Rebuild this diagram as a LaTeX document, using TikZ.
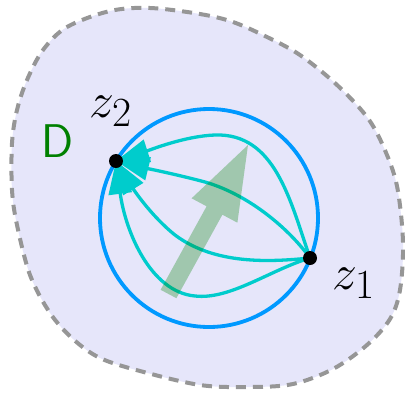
\documentclass[tikz,border=0pt]{standalone}
\usetikzlibrary{arrows.meta,calc}
\definecolor{lav}{RGB}{230,230,250}
\definecolor{teal2}{RGB}{0,204,204}
\definecolor{circblue}{RGB}{0,153,255}
\definecolor{dgray}{RGB}{150,150,150}
\definecolor{dgreen}{RGB}{0,128,0}
\tikzset{
  curve/.style={teal2,line width=3.3pt,-{Triangle[length=33pt,width=23pt]}},
  dot/.style={circle,fill=black,inner sep=0pt,minimum size=14pt},
  zlabel/.style={anchor=base west,inner sep=0pt,font=\Huge,scale=2},
}
\begin{document}
\begin{tikzpicture}[x=1pt,y=-1pt]
\useasboundingbox (0,0) rectangle (405,392);
% region
\draw[dgray,fill=lav,line width=4pt,dash pattern=on 10pt off 7pt]
  plot[smooth cycle,tension=0.55] coordinates {(150,8) (200,14) (233,22) (267,37) (300,55) (336,84) (367,117) (384,148) (397,186) (403,242) (400,290) (390,319) (367,345) (333,369) (293,384) (250,387) (200,385) (140,371) (100,358) (73,339) (50,313) (30,275) (17,225) (12,190) (12,143) (17,110) (27,80) (43,50) (67,27) (110,11)};
% circle
\draw[circblue,line width=3.8pt] (209,218) circle[radius=109];
\coordinate (z1) at (310,258);
\coordinate (z2) at (116,161);
% curves
\draw[curve] (z1) .. controls (290,200) and (275,133) .. (215,135) .. controls (185,136) and (150,150) .. (z2);
\draw[curve] (z1) .. controls (290,230) and (250,195) .. (205,182) .. controls (175,174) and (145,168) .. (z2);
\draw[curve] (z1) .. controls (270,262) and (215,265) .. (175,235) .. controls (150,215) and (132,187) .. (z2);
\draw[curve] (z1) .. controls (270,270) and (230,300) .. (195,296) .. controls (150,292) and (125,230) .. (z2);
% green arrow
\fill[dgreen,opacity=0.3] (160.6,289.8) -- (206.6,206.3) -- (191.6,198.3) -- (248,145) -- (237.4,222.7) -- (222.4,214.7) -- (176.4,298.2) -- cycle;
% dots
\node[dot] (p1) at (z1) {};
\node[dot] (p2) at (z2) {};
% labels
\node[zlabel] (l2) at (89,117) {$z_2$};
\node[zlabel] (l1) at (332,289) {$z_1$};
\node[anchor=base west,inner sep=0pt,text=dgreen,font=\Huge\sffamily,scale=1.9] (d) at (41,157) {D};
\end{tikzpicture}
\end{document}
